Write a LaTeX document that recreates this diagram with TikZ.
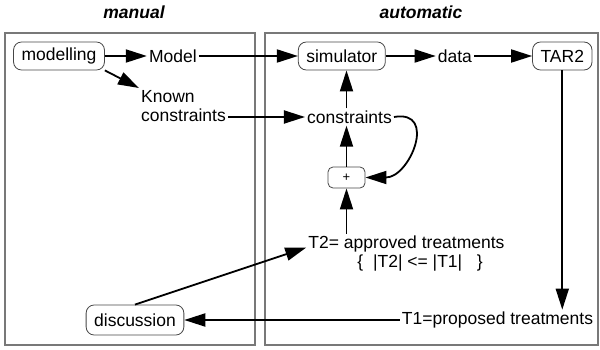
\documentclass[tikz,border=0pt]{standalone}
\usepackage{fontspec}
\setmainfont{Liberation Sans}
\usepackage{tikz}
\usetikzlibrary{arrows.meta, positioning}
\definecolor{marco}{RGB}{120,120,120}
\definecolor{borde}{RGB}{70,70,70}

\begin{document}
\begin{tikzpicture}[
  x=1pt, y=1pt,
  font=\fontsize{17.5}{19}\selectfont,
  caja/.style={draw=borde, line width=0.8pt, rounded corners=8pt,
               inner xsep=8pt, inner ysep=2pt, minimum height=28pt},
  texto/.style={inner sep=2pt},
  zona/.style={draw=marco, line width=1.3pt},
  titulo/.style={font=\fontsize{17.5}{19}\selectfont\bfseries\itshape},
  flecha/.style={-{Triangle[length=21pt,width=13pt]}, line width=1.8pt}
]
\useasboundingbox (0,0) rectangle (600,349);

% the two areas
\draw[zona] (5,4) rectangle (255,316);
\draw[zona] (265,4) rectangle (598,316);
\node[titulo] (manual) at (134,337) {manual};
\node[titulo] (auto) at (421,337) {automatic};

% top row
\node[caja] (modelling) at (59,293) {modelling};
\node[texto, right=42pt of modelling] (model) {Model};
\node[caja, right=99pt of model] (sim) {simulator};
\node[texto, right=50pt of sim] (data) {data};
\node[caja, right=58pt of data] (tar) {TAR2};

\node[texto, anchor=north west, align=left] (known) at (139,261) {Known\\constraints};
\node[texto] (cons) at (349.5,232) {constraints};
\node[draw=borde, line width=0.8pt, rounded corners=5pt, minimum width=37pt,
      minimum height=21pt, inner sep=0pt, font=\fontsize{13}{15}\selectfont] (plus) at (346.5,171.5) {+};
\node[texto, align=left] (t2) at (406.5,95.5)
  {T2= approved treatments\\\hspace*{49pt}\{\ \ |T2| <= |T1|\ \ \ \}};
\node[texto] (t1) at (497.5,29) {T1=proposed treatments};
\node[caja, minimum height=30pt] (disc) at (135,29) {discussion};

\draw[flecha] (modelling) -- (model);
\draw[flecha] (modelling.south east) -- (known.north west);
\draw[flecha] (model) -- (sim);
\draw[flecha] (sim) -- (data);
\draw[flecha] (data) -- (tar);
\draw[flecha] (known.east |- cons) -- (cons);
\draw[flecha] (cons.north -| plus) -- (sim.south -| plus);
\draw[flecha] (plus) -- (cons.south -| plus);
\draw[flecha] (cons.east) to[out=10, in=0, looseness=1.7] (plus.east);
\draw[flecha] (t2.north -| plus) -- (plus);
\draw[flecha] (tar) -- (tar |- t1.north);
\draw[flecha] (t1) -- (disc);
\draw[flecha] (disc.north) -- ([yshift=6pt]t2.west);
\end{tikzpicture}
\end{document}
